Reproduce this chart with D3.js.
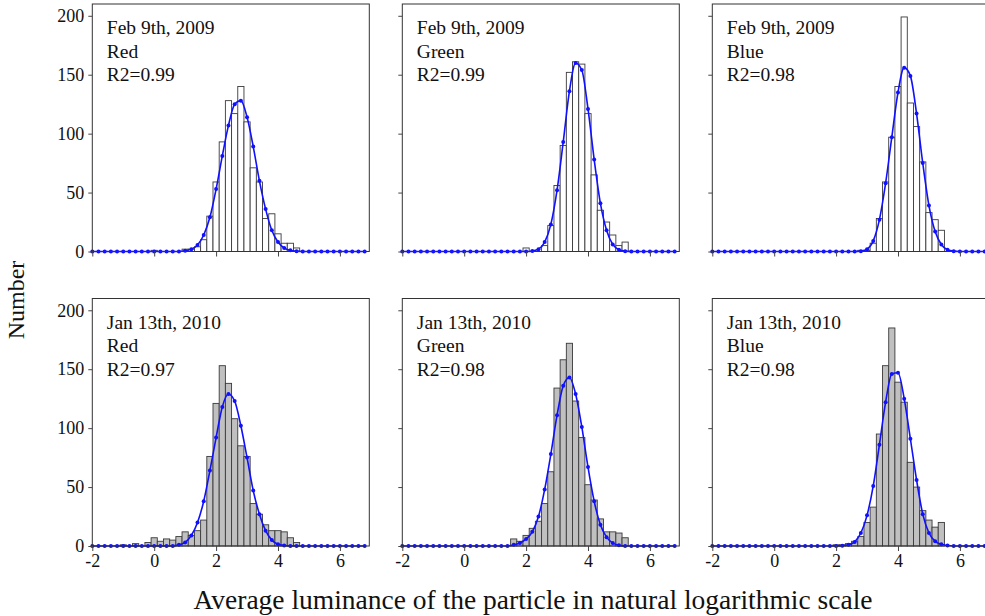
<html>
<head>
<meta charset="utf-8">
<title>Luminance histograms</title>
<script src="https://d3js.org/d3.v7.min.js"></script>
<style>
  body { margin: 0; background: #fff; }
  svg { display: block; }
  .frame { fill: none; stroke: #333; stroke-width: 1; }
  .tick line { stroke: #444; }
</style>
</head>
<body>
<svg id="chart" width="985" height="616"></svg>
<script>
// ---- data ----
var binWidth = 0.2;
var xTicks = [-2, 0, 2, 4, 6];
var yTicks = [0, 50, 100, 150, 200];

var panelDates = ["Feb 9th, 2009", "Feb 9th, 2009", "Feb 9th, 2009",
                  "Jan 13th, 2010", "Jan 13th, 2010", "Jan 13th, 2010"];
var panelChannels = ["Red", "Green", "Blue", "Red", "Green", "Blue"];
var panelR2 = ["R2=0.99", "R2=0.99", "R2=0.98", "R2=0.97", "R2=0.98", "R2=0.98"];

// histogram counts, consecutive bins of width 0.2 starting at histStart (bin centre)
var histStart = [0.0, 2.0, 2.8, -1.0, 1.6, 2.0];
var hist1 = [1,0,0,0,0,2,2,4,10,30,59,93,128,117,140,110,71,59,28,32,15,7,7,3];
var hist2 = [3,0,0,5,22,56,90,152,161,159,117,65,35,25,14,5,8];
var hist3 = [1,1,7,28,59,97,140,199,126,106,76,33,27,18];
var hist4 = [1,0,2,0,3,7,4,6,5,8,12,9,13,22,76,121,153,138,108,85,76,36,27,18,13,13,12,7,3];
var hist5 = [6,4,9,15,21,36,63,134,158,172,123,92,52,39,23,12,12,11,7];
var hist6 = [1,1,2,4,8,20,33,95,153,185,139,122,71,50,30,22,16,20];

// fitted curve markers (step 0.2), zero outside the listed range
var fitStart = [1.0, 2.2, 2.8, 0.8, 1.6, 2.2];
var fit1 = [0.6,2,5.5,14,29,53,81,107,125,128,114,89,60,36,18,8,3,1,0.3];
var fit2 = [0.5,2,8,23,52,93,136,160,154,121,78,41,18,6,1.5,0.3];
var fit3 = [0.3,2,9,27,58,97,135,156,149,117,75,39,17,6,1.5,0.3];
var fit4 = [1,3,9,20,38,64,92,118,129,123,102,75,47,27,13,5,1.5,0.4];
var fit5 = [1,2.5,6,12,25,48,78,111,136,143,129,101,67,38,18,7.5,2.5,0.7];
var fit6 = [0.3,1,3.5,11,26,51,86,122,146,147,125,91,56,27,11,4,1.4,0.4];

var hists = [hist1, hist2, hist3, hist4, hist5, hist6];
var fits = [fit1, fit2, fit3, fit4, fit5, fit6];

// ---- layout ----
var serif = "'Liberation Serif', 'Times New Roman', serif";
var colLeft = [92.3, 402.3, 712.3];
var panelW = 277;
var rowTop = [4, 298.5];
var panelH = 247.5;
var barFill = ["#ffffff", "#c0c0c0"];

var svg = d3.select("#chart");

function stepIndex(v) { return Math.round(v / binWidth); }

for (var p = 0; p < 6; p++) {
  var col = p % 3, row = Math.floor(p / 3);
  var x0 = colLeft[col], y0 = rowTop[row];

  var x = d3.scaleLinear().domain([-2, 6.95]).range([x0, x0 + panelW]);
  var y = d3.scaleLinear().domain([0, 210]).range([y0 + panelH, y0]);

  var g = svg.append("g");

  // bars
  var s0 = stepIndex(histStart[p]);
  var bars = hists[p].map(function (c, i) { return { c: (s0 + i) * binWidth, n: c }; })
    .filter(function (d) { return d.n > 0; });

  g.selectAll("rect.bar").data(bars).enter()
    .append("rect")
    .attr("class", "bar")
    .attr("x", function (d) { return x(d.c - binWidth / 2); })
    .attr("width", function (d) { return x(d.c + binWidth / 2) - x(d.c - binWidth / 2); })
    .attr("y", function (d) { return y(d.n); })
    .attr("height", function (d) { return y(0) - y(d.n); })
    .style("fill", barFill[row])
    .style("stroke", "#3a3a3a")
    .style("stroke-width", 0.9);

  // fitted curve over the whole axis range
  var f0 = stepIndex(fitStart[p]);
  var pts = [];
  for (var k = stepIndex(-2); k <= stepIndex(6.8); k++) {
    var j = k - f0;
    var val = (j >= 0 && j < fits[p].length) ? fits[p][j] : 0;
    pts.push({ x: k * binWidth, v: val });
  }

  var line = d3.line()
    .x(function (d) { return x(d.x); })
    .y(function (d) { return y(d.v); })
    .curve(d3.curveMonotoneX);

  g.append("path")
    .datum(pts)
    .attr("d", line)
    .style("fill", "none")
    .style("stroke", "#1010ff")
    .style("stroke-width", 1.6);

  g.selectAll("circle.pt").data(pts).enter()
    .append("circle")
    .attr("class", "pt")
    .attr("cx", function (d) { return x(d.x); })
    .attr("cy", function (d) { return y(d.v); })
    .attr("r", 2)
    .style("fill", "#1010ff");

  // frame
  g.append("rect").attr("class", "frame")
    .attr("x", x0).attr("y", y0).attr("width", panelW).attr("height", panelH);

  // axes
  var yAxis = d3.axisLeft(y).tickValues(yTicks).tickSize(4).tickPadding(4)
    .tickFormat(col === 0 ? d3.format("d") : function () { return ""; });
  var ya = g.append("g").attr("transform", "translate(" + x0 + ",0)").call(yAxis);
  ya.select(".domain").remove();
  ya.attr("font-family", null);
  ya.selectAll("text").style("font-family", serif).style("font-size", "18px").style("fill", "#111");

  var xAxis = d3.axisBottom(x).tickValues(xTicks).tickSize(5).tickPadding(3)
    .tickFormat(row === 1 ? function (d) { return String(d); } : function () { return ""; });
  var xa = g.append("g").attr("transform", "translate(0," + (y0 + panelH) + ")").call(xAxis);
  xa.select(".domain").remove();
  xa.attr("font-family", null);
  xa.selectAll("text").style("font-family", serif).style("font-size", "18px").style("fill", "#111");

  // annotation
  var lines = [panelDates[p], panelChannels[p], panelR2[p]];
  g.selectAll("text.note").data(lines).enter()
    .append("text")
    .attr("class", "note")
    .attr("x", x0 + 14.5)
    .attr("y", function (d, i) { return y0 + 30 + i * 23.5; })
    .style("font-family", serif)
    .style("font-size", "19.5px")
    .style("fill", "#111")
    .text(function (d) { return d; });
}

// axis titles
svg.append("text")
  .attr("transform", "translate(24,300) rotate(-90)")
  .attr("text-anchor", "middle")
  .style("font-family", serif)
  .style("font-size", "24px")
  .style("fill", "#111")
  .text("Number");

svg.append("text")
  .attr("x", 533)
  .attr("y", 609)
  .attr("text-anchor", "middle")
  .style("font-family", serif)
  .style("font-size", "27.5px")
  .style("fill", "#111")
  .text("Average luminance of the particle in natural logarithmic scale");
</script>
</body>
</html>
